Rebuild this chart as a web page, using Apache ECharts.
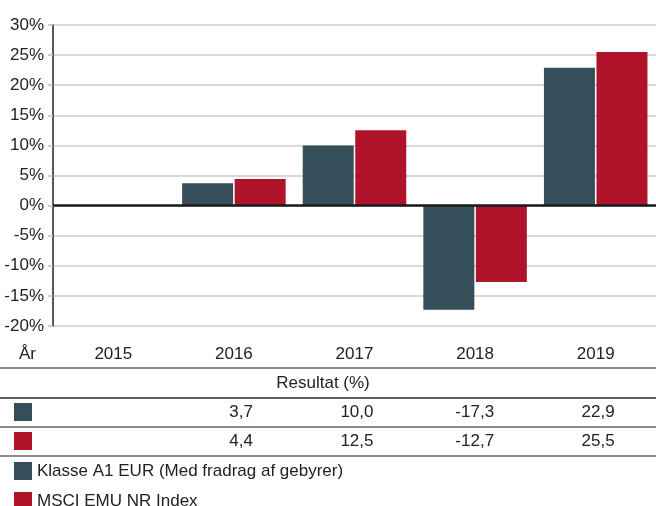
<!DOCTYPE html>
<html>
<head>
<meta charset="utf-8">
<script src="https://cdn.jsdelivr.net/npm/echarts@6/dist/echarts.min.js"></script>
<style>html,body{margin:0;padding:0;background:#fff}#c{width:656px;height:506px}</style>
</head>
<body>
<div id="c"></div>
<script>
const categories = ['2015', '2016', '2017', '2018', '2019'];
const fundValues = [null, 3.7, 10.0, -17.3, 22.9];
const indexValues = [null, 4.4, 12.5, -12.7, 25.5];
const seriesNames = ['Klasse A1 EUR (Med fradrag af gebyrer)', 'MSCI EMU NR Index'];
const yTicks = [-20, -15, -10, -5, 0, 5, 10, 15, 20, 25, 30];
const yearLabel = 'År';
const tableTitle = 'Resultat (%)';

const colors = ['#364d5a', '#b0142b'];
const font = '"Liberation Sans", Arial, Helvetica, sans-serif';
const textColor = '#222';

const chart = echarts.init(document.getElementById('c'), null, {renderer: 'canvas'});
const fmt = v => (v === null || v === undefined) ? '' : v.toFixed(1).replace('.', ',');

const legendFor = (name, top) => ({
  orient: 'vertical', left: 14, top: top, icon: 'rect', padding: 0,
  itemWidth: 18, itemHeight: 18, itemGap: 12,
  textStyle: {fontSize: 17, color: textColor, fontFamily: font},
  data: [name]
});

chart.setOption({
  animation: false,
  color: colors,
  textStyle: {fontFamily: font, color: textColor},
  grid: {left: 53, width: 607, top: 25, height: 301, containLabel: false},
  legend: [legendFor(seriesNames[0], 462), legendFor(seriesNames[1], 492)],
  xAxis: {
    type: 'category', data: categories,
    axisLine: {show: false, onZero: false}, axisTick: {show: false},
    axisLabel: {margin: 20, fontSize: 17, color: textColor, fontFamily: font},
    splitLine: {show: false}
  },
  yAxis: {
    type: 'value', min: yTicks[0], max: yTicks[yTicks.length - 1], interval: 5,
    axisLine: {show: true, lineStyle: {color: '#222', width: 1.5}},
    axisTick: {show: true, length: 5, lineStyle: {color: '#bdbdbd', width: 1.5}},
    axisLabel: {margin: 9, fontSize: 17, color: textColor, fontFamily: font, formatter: '{value}%'},
    splitLine: {show: true, lineStyle: {color: '#cdcdcd', width: 1.5}}
  },
  series: [
    {
      name: seriesNames[0], type: 'bar', data: fundValues, barWidth: 51, barGap: '3%',
      itemStyle: {color: colors[0]},
      markLine: {
        silent: true, symbol: ['none', 'none'], label: {show: false},
        lineStyle: {color: '#1a1a1a', width: 2.5, type: 'solid'},
        data: [{yAxis: 0}]
      }
    },
    {
      name: seriesNames[1], type: 'bar', data: indexValues, barWidth: 51,
      itemStyle: {color: colors[1]}
    }
  ]
});

// Table below the chart, built from the data arrays and positioned by the category axis.
const graphics = [];
const hline = (y, color, w) => ({type: 'line', shape: {x1: 0, y1: y, x2: 656, y2: y}, style: {stroke: color, lineWidth: w}, silent: true});
graphics.push(hline(368, '#8c8c8c', 2));
graphics.push(hline(398, '#2a2a2a', 1.5));
graphics.push(hline(427, '#8c8c8c', 2));
graphics.push(hline(456, '#8c8c8c', 2));
graphics.push({type: 'text', x: 19, y: 354, style: {text: yearLabel, font: '17px ' + font, fill: textColor, textVerticalAlign: 'middle'}});
graphics.push({type: 'text', x: 323, y: 383, style: {text: tableTitle, font: '17px ' + font, fill: textColor, textAlign: 'center', textVerticalAlign: 'middle'}});
const rows = [{vals: fundValues, y: 412, color: colors[0]}, {vals: indexValues, y: 441, color: colors[1]}];
rows.forEach(r => {
  graphics.push({type: 'rect', shape: {x: 14, y: r.y - 9, width: 18, height: 18}, style: {fill: r.color}});
  categories.forEach((c, i) => {
    const x = chart.convertToPixel({xAxisIndex: 0}, c);
    graphics.push({type: 'text', x: x + 19, y: r.y, style: {text: fmt(r.vals[i]), font: '17px ' + font, fill: textColor, textAlign: 'right', textVerticalAlign: 'middle'}});
  });
});
chart.setOption({graphic: graphics});
</script>
</body>
</html>
